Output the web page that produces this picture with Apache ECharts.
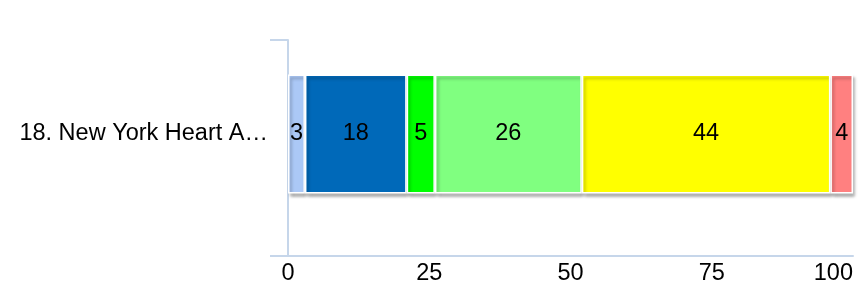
<!DOCTYPE html>
<html>
<head>
<meta charset="utf-8">
<script src="https://cdn.jsdelivr.net/npm/echarts@6/dist/echarts.min.js"></script>
<style>
  html, body { margin: 0; padding: 0; background: #fff; }
  #chart { width: 861px; height: 288px; }
</style>
</head>
<body>
<div id="chart"></div>
<script>
// data
var categories = ['18. New York Heart A…'];
var seriesValues = [[3], [18], [5], [26], [44], [4]];
var seriesColors = ['#abc8f6', '#0069b9', '#00ff00', '#80ff80', '#ffff00', '#ff8080'];
var xTicks = [0, 25, 50, 75, 100];

var axisColor = '#c6d6ea';
var font = 'Liberation Sans, Arial, sans-serif';

var series = seriesValues.map(function (vals, i) {
    return {
        type: 'bar',
        stack: 'total',
        xAxisIndex: 0,
        yAxisIndex: 0,
        data: vals,
        barWidth: 119,
        itemStyle: {
            color: seriesColors[i],
            borderColor: '#ffffff',
            borderWidth: 1.5,
            shadowColor: 'rgba(0,0,0,0.3)',
            shadowBlur: 3,
            shadowOffsetX: 2,
            shadowOffsetY: 3
        },
        label: {
            show: true,
            position: 'inside',
            color: '#000',
            fontSize: 23.5,
            fontFamily: font
        }
    };
});

var myChart = echarts.init(document.getElementById('chart'));
myChart.setOption({
    animation: false,
    grid: [
        // grid for the bar
        { left: 288, right: 8, top: 12, bottom: 32 },
        // grid only for the axis frame
        { left: 288, right: 8, top: 40, bottom: 32 }
    ],
    xAxis: [{
        gridIndex: 0,
        type: 'value',
        min: xTicks[0],
        max: xTicks[xTicks.length - 1],
        interval: 25,
        splitLine: { show: false },
        axisLine: { show: true, lineStyle: { color: axisColor, width: 2 } },
        axisTick: { show: false },
        axisLabel: {
            color: '#000',
            fontSize: 23.5,
            fontFamily: font,
            margin: 6,
            alignMaxLabel: 'right'
        }
    }, {
        gridIndex: 1,
        type: 'value',
        min: 0,
        max: 100,
        show: false
    }],
    yAxis: [{
        gridIndex: 0,
        type: 'category',
        data: categories,
        axisLine: { show: false },
        axisTick: { show: false },
        axisLabel: {
            color: '#000',
            fontSize: 23.5,
            fontFamily: font,
            margin: 20,
            padding: [12, 0, 0, 0]
        }
    }, {
        gridIndex: 1,
        type: 'category',
        data: [''],
        axisLine: { show: true, lineStyle: { color: axisColor, width: 2 } },
        axisTick: { show: true, length: 18, lineStyle: { color: axisColor, width: 2 } },
        axisLabel: { show: false }
    }],
    series: series
});
</script>
</body>
</html>
